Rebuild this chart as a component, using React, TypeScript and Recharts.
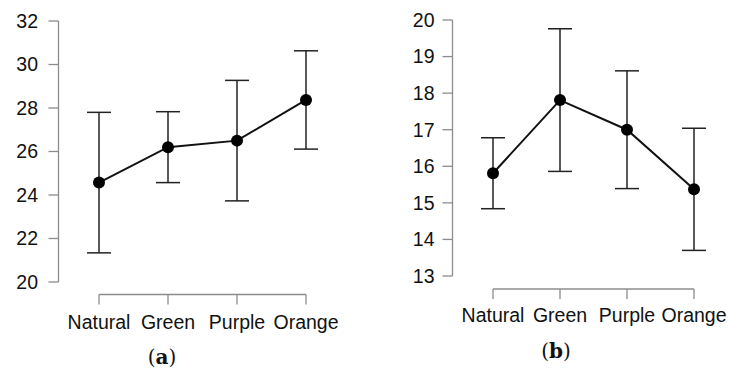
import { LineChart, Line, XAxis, YAxis, ErrorBar } from "recharts"

const categories = ["Natural", "Green", "Purple", "Orange"]

// panel (a)
const meanA = [24.57, 26.2, 26.5, 28.37]
const errA = [3.23, 1.63, 2.77, 2.26]
const ticksA = [20, 22, 24, 26, 28, 30, 32]

// panel (b)
const meanB = [15.81, 17.81, 17.0, 15.37]
const errB = [0.97, 1.95, 1.61, 1.67]
const ticksB = [13, 14, 15, 16, 17, 18, 19, 20]

const AXIS = "#8c8c8c"
const INK = "#111"
const FONT = "'Liberation Sans', Arial, sans-serif"

function build(means: number[], errs: number[]) {
  return categories.map((c, i) => ({ name: c, mean: means[i], err: errs[i] }))
}

type PanelProps = {
  means: number[]
  errs: number[]
  ticks: number[]
  width: number
  top: number
  right: number
  yWidth: number
  xHeight: number
  yShift: number
  xDrop: number
  yTickMargin: number
  xTickMargin: number
}

// R-style panel: axes detached from the plot area
function Panel(p: PanelProps) {
  const data = build(p.means, p.errs)
  const tickFont = { fontFamily: FONT, fontSize: 19.5, fill: INK }
  return (
    <LineChart
      width={p.width}
      height={379}
      data={data}
      margin={{ top: p.top, right: p.right, bottom: 0, left: 0 }}
    >
      <XAxis
        dataKey="name"
        type="category"
        scale="point"
        padding={{ left: 0, right: 0 }}
        interval={0}
        height={p.xHeight}
        stroke={INK}
        tickSize={10}
        tickMargin={p.xTickMargin}
        axisLine={{ stroke: AXIS, strokeWidth: 1.3, transform: `translate(0,${p.xDrop})` }}
        tickLine={{ stroke: AXIS, strokeWidth: 1.3, transform: `translate(0,${p.xDrop})` }}
        tick={tickFont}
      />
      <YAxis
        type="number"
        domain={[p.ticks[0], p.ticks[p.ticks.length - 1]]}
        ticks={p.ticks}
        interval={0}
        width={p.yWidth}
        stroke={INK}
        tickSize={10}
        tickMargin={p.yTickMargin}
        axisLine={{ stroke: AXIS, strokeWidth: 1.3, transform: `translate(${p.yShift},0)` }}
        tickLine={{ stroke: AXIS, strokeWidth: 1.3, transform: `translate(${p.yShift},0)` }}
        tick={tickFont}
      />
      <Line
        dataKey="mean"
        type="linear"
        stroke={INK}
        strokeWidth={2}
        dot={{ r: 6, fill: "#000", stroke: "#000", strokeWidth: 0 }}
        activeDot={false}
        isAnimationActive={false}
      >
        <ErrorBar dataKey="err" direction="y" width={12} stroke="#222" strokeWidth={1.5} isAnimationActive={false} />
      </Line>
    </LineChart>
  )
}

const titleStyle = {
  position: "absolute" as const,
  width: 80,
  textAlign: "center" as const,
  fontFamily: "'DejaVu Serif', serif",
  fontSize: 20,
  lineHeight: "24px",
  color: INK,
}

export default function App() {
  return (
    <div style={{ position: "fixed", left: 0, top: 0, width: 729, height: 379, background: "#fff" }}>
      <div style={{ position: "absolute", left: 0, top: 0 }}>
        <Panel
          means={meanA}
          errs={errA}
          ticks={ticksA}
          width={364}
          top={21}
          right={58}
          yWidth={99}
          xHeight={97}
          yShift={-40.5}
          xDrop={12.5}
          yTickMargin={51}
          xTickMargin={23}
        />
      </div>
      <div style={{ position: "absolute", left: 364, top: 0 }}>
        <Panel
          means={meanB}
          errs={errB}
          ticks={ticksB}
          width={365}
          top={20}
          right={35}
          yWidth={129}
          xHeight={103}
          yShift={-40.5}
          xDrop={13}
          yTickMargin={48.5}
          xTickMargin={22}
        />
      </div>
      <div style={{ ...titleStyle, left: 122, top: 345 }}>
        (<b>a</b>)
      </div>
      <div style={{ ...titleStyle, left: 516, top: 339 }}>
        (<b>b</b>)
      </div>
    </div>
  )
}
